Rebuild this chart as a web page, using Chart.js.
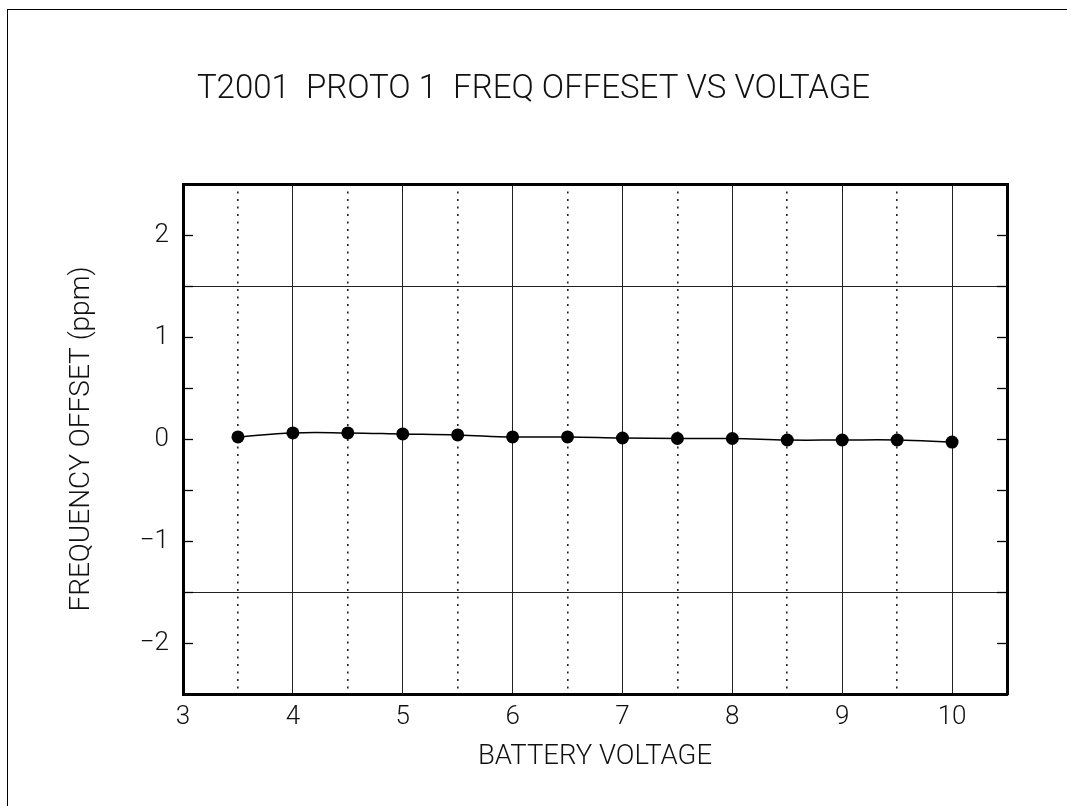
<!DOCTYPE html>
<html>
<head>
<meta charset="utf-8">
<script src="https://cdn.jsdelivr.net/npm/chart.js@4"></script>
<style>
  html, body { margin: 0; padding: 0; background: #fff; }
  #page { position: relative; width: 1067px; height: 806px; overflow: hidden; }
  #frame { position: absolute; left: 7px; top: 9px; right: -2px; bottom: -2px;
           border-top: 1px solid #000; border-left: 1px solid #000; }
  #plot { position: absolute; left: 0; top: 0; }
</style>
</head>
<body>
<div id="page">
  <div id="frame"></div>
  <canvas id="plot" width="1067" height="806"></canvas>
</div>
<script>
// Battery voltage sweep and measured frequency offset (ppm)
const voltages = [3.5, 4, 4.5, 5, 5.5, 6, 6.5, 7, 7.5, 8, 8.5, 9, 9.5, 10];
const offsets  = [0.02, 0.06, 0.06, 0.05, 0.04, 0.02, 0.02, 0.01, 0.005, 0.005, -0.01, -0.01, -0.01, -0.03];

// Axis ranges and labelled ticks
const xRange = { min: 3, max: 10.5, step: 0.5 };
const yRange = { min: -2.5, max: 2.5, step: 0.5 };
const limitLines = [1.5, -1.5];

const titleText = 'T2001  PROTO 1  FREQ OFFESET VS VOLTAGE';
const xTitle = 'BATTERY VOLTAGE';
const yTitle = 'FREQUENCY OFFSET (ppm)';

const FONT = "Roboto, 'Liberation Sans', sans-serif";
const WEIGHT = 300;
const INK = '#111';
const GRID = '#222';

const isWhole = v => Math.abs(v - Math.round(v)) < 1e-9;
const fmt = v => isWhole(v) ? (v < 0 ? '\u2212' + Math.abs(v) : String(Math.round(v))) : '';

const fixWidth = w => s => { s.width = w; };
const fixHeight = h => s => { s.height = h; };

new Chart(document.getElementById('plot'), {
  type: 'line',
  data: {
    datasets: [{
      data: voltages.map((v, i) => ({ x: v, y: offsets[i] })),
      borderColor: '#000',
      borderWidth: 1.5,
      backgroundColor: '#000',
      pointRadius: 6.5,
      pointHoverRadius: 6.5,
      pointBorderWidth: 0,
      tension: 0.4,
      fill: false,
      xAxisID: 'x',
      yAxisID: 'y'
    }]
  },
  options: {
    responsive: false,
    animation: false,
    events: [],
    layout: { padding: 0 },
    plugins: {
      legend: { display: false },
      tooltip: { enabled: false },
      title: {
        display: true,
        text: titleText,
        color: INK,
        font: { family: FONT, size: 33, weight: WEIGHT, lineHeight: '40px' },
        padding: { top: 70, bottom: 6 }
      }
    },
    scales: {
      x: {
        type: 'linear',
        position: 'bottom',
        min: xRange.min, max: xRange.max,
        afterFit: fixHeight(112),
        ticks: {
          stepSize: xRange.step,
          autoSkip: false,
          maxRotation: 0,
          padding: 8,
          color: INK,
          font: { family: FONT, size: 26, weight: WEIGHT },
          callback: v => fmt(v)
        },
        grid: {
          drawTicks: false,
          lineWidth: ctx => (ctx.tick && !isWhole(ctx.tick.value)) ? 1.6 : 1,
          color: GRID
        },
        border: {
          display: true,
          width: 3,
          color: '#000',
          dash: ctx => (ctx.tick && !isWhole(ctx.tick.value)) ? [2, 5.5] : []
        },
        title: {
          display: true,
          text: xTitle,
          color: INK,
          font: { family: FONT, size: 27.5, weight: WEIGHT, lineHeight: '33px' },
          padding: { top: 0, bottom: 32.5 }
        }
      },
      xTop: {
        type: 'linear',
        position: 'top',
        min: xRange.min, max: xRange.max,
        afterFit: fixHeight(68),
        ticks: { display: false },
        grid: { display: false },
        border: { display: true, width: 3, color: '#000' }
      },
      y: {
        type: 'linear',
        position: 'left',
        min: yRange.min, max: yRange.max,
        afterFit: fixWidth(183),
        ticks: {
          stepSize: yRange.step,
          autoSkip: false,
          padding: 24,
          color: INK,
          font: { family: FONT, size: 26, weight: WEIGHT },
          callback: v => fmt(v)
        },
        grid: {
          drawTicks: true,
          tickLength: -10,
          tickWidth: 1.3,
          tickColor: '#000',
          lineWidth: 1,
          color: ctx => (ctx.tick && limitLines.some(l => Math.abs(ctx.tick.value - l) < 1e-9)) ? GRID : 'rgba(0,0,0,0)'
        },
        border: { display: true, width: 3, color: '#000' },
        title: {
          display: true,
          text: yTitle,
          color: INK,
          font: { family: FONT, size: 28, weight: WEIGHT, lineHeight: '34px' },
          padding: { top: 65, bottom: 0 }
        }
      },
      yRight: {
        type: 'linear',
        position: 'right',
        min: yRange.min, max: yRange.max,
        afterFit: fixWidth(60),
        ticks: { display: false, stepSize: yRange.step, autoSkip: false },
        grid: {
          drawOnChartArea: false,
          drawTicks: true,
          tickLength: -10,
          tickWidth: 1.3,
          tickColor: '#000'
        },
        border: { display: true, width: 3, color: '#000' }
      }
    }
  }
});
</script>
</body>
</html>
